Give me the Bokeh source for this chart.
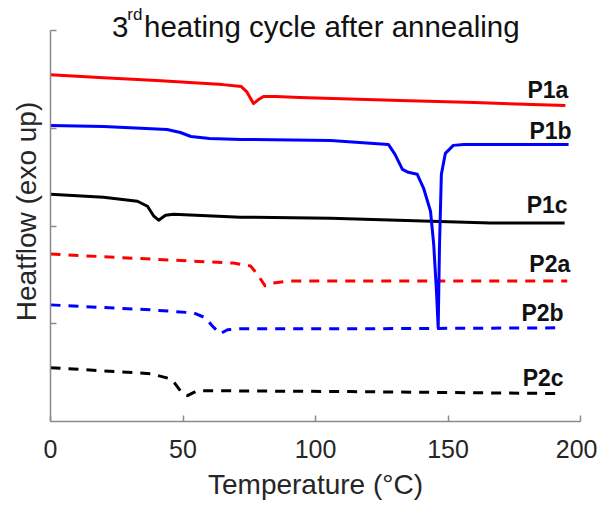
from bokeh.plotting import figure
from bokeh.models import Range1d, Label, FixedTicker
from bokeh.embed import file_html
from bokeh.resources import INLINE
from bokeh.core.properties import value

# ---- data (temperature in °C, heat flow in arbitrary units, exo up) ----
t_p1a = [0, 20, 40, 65, 72, 74, 76.6, 78.5, 80.4, 85, 94, 132, 160, 194.3]
h_p1a = [3.551, 3.520, 3.490, 3.449, 3.429, 3.378, 3.255, 3.296, 3.327, 3.327, 3.316, 3.286, 3.265, 3.235]

t_p1b = [0, 20, 44, 49, 53, 60, 72, 105.7, 127.5, 130, 132.8, 135, 138.4, 140.8, 143.4, 144.6,
         145.7, 146.3, 146.8, 147.5, 149, 152, 156, 166, 195.5]
h_p1b = [3.031, 3.020, 2.990, 2.959, 2.918, 2.898, 2.888, 2.878, 2.837, 2.735, 2.582, 2.551, 2.531,
         2.388, 2.153, 1.816, 1.306, 0.959, 1.816, 2.531, 2.745, 2.827, 2.837, 2.837, 2.837]

t_p1c = [0, 20, 32.8, 36.6, 39, 40.8, 43.4, 46.4, 71.7, 105.7, 166, 194]
h_p1c = [2.327, 2.296, 2.255, 2.204, 2.102, 2.061, 2.112, 2.122, 2.092, 2.082, 2.031, 2.031]

t_p2a = [0, 37.7, 69, 75.5, 78, 81, 84, 90.6, 113, 195]
h_p2a = [1.714, 1.663, 1.622, 1.592, 1.510, 1.388, 1.418, 1.439, 1.439, 1.439]

t_p2b = [0, 37.7, 54, 58.5, 61, 64, 66.8, 70.6, 113, 192.5]
h_p2b = [1.194, 1.143, 1.112, 1.061, 0.980, 0.898, 0.939, 0.949, 0.949, 0.959]

t_p2c = [0, 37.7, 45, 47, 49.8, 51.7, 55.5, 113, 192.5]
h_p2c = [0.551, 0.490, 0.439, 0.388, 0.286, 0.265, 0.316, 0.306, 0.286]

x_ticks = [0, 50, 100, 150, 200]
y_ticks = [1, 2, 3, 4]

# ---- styles (name, temps, heat, colour, dash, label y-offset px) ----
series = [
    ("P2c", t_p2c, h_p2c, "#000000", "10 8", -16),
    ("P2b", t_p2b, h_p2b, "#0000ff", "10 8", -15),
    ("P2a", t_p2a, h_p2a, "#ff0000", "10 8", -17),
    ("P1c", t_p1c, h_p1c, "#000000", "solid", -18),
    ("P1b", t_p1b, h_p1b, "#0000ff", "solid", -13),
    ("P1a", t_p1a, h_p1a, "#ff0000", "solid", -16),
]

FONT = "Liberation Sans"
AXIS_GREY = "#8a8a8a"
TEXT_GREY = "#262626"

p = figure(width=597, height=508, output_backend="svg", toolbar_location=None,
           x_range=Range1d(0, 200), y_range=Range1d(0, 4.3),
           min_border_left=50, min_border_right=17, min_border_top=1, min_border_bottom=87)
p.outline_line_color = None
p.grid.visible = False
p.background_fill_color = "white"
p.border_fill_color = "white"

for name, t, h, color, dash, yoff in series:
    p.line(t, h, line_color=color, line_width=3, line_dash=dash, line_join="round")
    p.text(x=[t[-1]], y=[h[-1]], text=[name], text_align="right", text_baseline="alphabetic",
           x_offset=3, y_offset=yoff, text_font=value(FONT), text_font_style="bold",
           text_font_size="23px", text_color="#111111")

# x axis
xa = p.xaxis[0]
xa.ticker = FixedTicker(ticks=x_ticks)
xa.axis_line_color = AXIS_GREY
xa.axis_line_width = 1.5
xa.major_tick_line_color = AXIS_GREY
xa.major_tick_line_width = 1.5
xa.major_tick_in = 6
xa.major_tick_out = 0
xa.minor_tick_line_color = None
xa.major_label_text_font = FONT
xa.major_label_text_font_size = "25px"
xa.major_label_text_color = TEXT_GREY
xa.major_label_standoff = 18
xa.axis_label = "Temperature (°C)"
xa.axis_label_text_font = FONT
xa.axis_label_text_font_size = "28px"
xa.axis_label_text_font_style = "normal"
xa.axis_label_text_color = TEXT_GREY
xa.axis_label_standoff = 8

# y axis (ticks only, no tick labels), line limited to 0..4
ya = p.yaxis[0]
ya.ticker = FixedTicker(ticks=y_ticks)
ya.bounds = (0, 4)
ya.major_label_overrides = {k: "" for k in y_ticks}
ya.axis_line_color = AXIS_GREY
ya.axis_line_width = 1.5
ya.major_tick_line_color = AXIS_GREY
ya.major_tick_line_width = 1.5
ya.major_tick_in = 6
ya.major_tick_out = 0
ya.minor_tick_line_color = None
ya.major_label_standoff = 0
ya.axis_label = "Heatflow (exo up)"
ya.axis_label_text_font = FONT
ya.axis_label_text_font_size = "28px"
ya.axis_label_text_font_style = "normal"
ya.axis_label_text_color = TEXT_GREY
ya.axis_label_standoff = 9

# title with superscript
title_kw = dict(x_units="data", y_units="data", text_font=FONT, text_color="#111111",
                text_baseline="alphabetic")
p.add_layout(Label(x=23.2, y=4.04, text="3", text_font_size="29.5px", **title_kw))
p.add_layout(Label(x=29.0, y=4.165, text="rd", text_font_size="17px", **title_kw))
p.add_layout(Label(x=35.3, y=4.04, text="heating cycle after annealing",
                   text_font_size="29.5px", **title_kw))

open("out.html", "w").write(file_html(p, INLINE))
